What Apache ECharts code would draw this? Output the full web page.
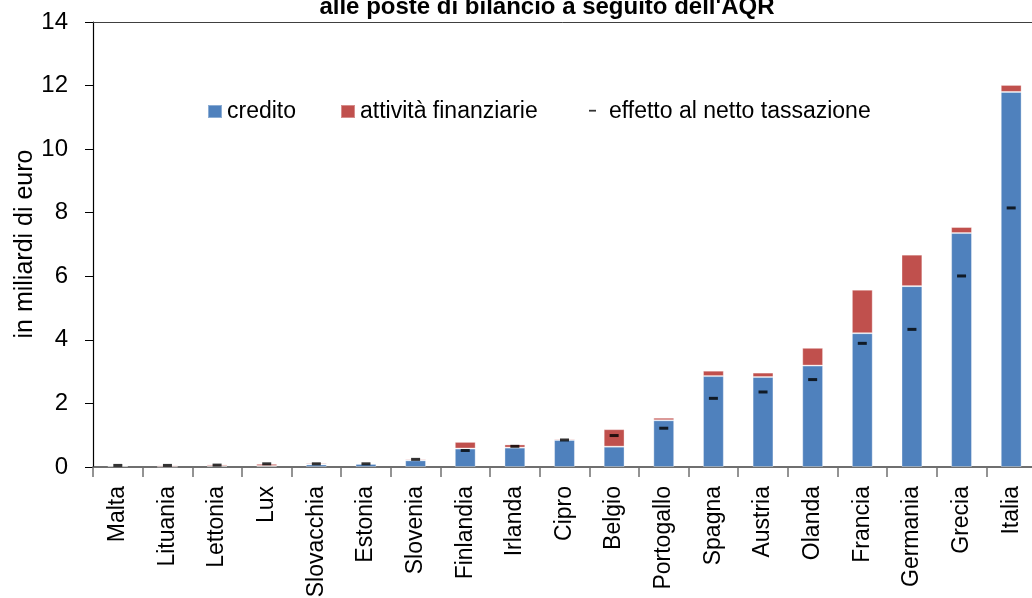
<!DOCTYPE html>
<html>
<head>
<meta charset="utf-8">
<script src="https://cdn.jsdelivr.net/npm/echarts@6/dist/echarts.min.js"></script>
<style>
  html, body { margin: 0; padding: 0; background: #fff; }
  #chart { width: 1032px; height: 598px; }
</style>
</head>
<body>
<div id="chart"></div>
<script>
var paesi = ['Malta', 'Lituania', 'Lettonia', 'Lux', 'Slovacchia', 'Estonia', 'Slovenia', 'Finlandia', 'Irlanda', 'Cipro',
  'Belgio', 'Portogallo', 'Spagna', 'Austria', 'Olanda', 'Francia', 'Germania', 'Grecia', 'Italia']
// componente credito (blu)
var credito = [0.03, 0.01, 0.03, 0.03, 0.08, 0.1, 0.21, 0.58, 0.61, 0.85, 0.64, 1.47, 2.86, 2.83, 3.19, 4.21, 5.69, 7.36, 11.8]
// attività finanziarie (rosso), sopra al credito
var attivita = [0.02, 0.04, 0.05, 0.07, 0.04, 0.0, 0.04, 0.21, 0.1, 0.04, 0.55, 0.08, 0.17, 0.14, 0.56, 1.37, 0.99, 0.19, 0.22]
// effetto al netto della tassazione (trattino)
var netto = [0.05, 0.05, 0.06, 0.1, 0.1, 0.1, 0.24, 0.52, 0.65, 0.85, 0.99, 1.22, 2.16, 2.36, 2.75, 3.89, 4.33, 6.01, 8.15]
var yTicks = [0, 14, 2]

var font = '"Liberation Sans", Arial, sans-serif'
var myChart = echarts.init(document.getElementById('chart'))

const option = {
  animation: false,
  title: {
    text: "alle poste di bilancio a seguito dell'AQR",
    left: 542,
    textAlign: 'center',
    top: -10,
    textStyle: {
      fontFamily: font,
      fontSize: 24,
      fontWeight: 'bold',
      color: '#000'
    }
  },
  legend: [
    {
      left: 202,
      top: 95,
      itemWidth: 14,
      itemHeight: 13,
      textStyle: { fontFamily: font, fontSize: 23, color: '#000' },
      data: [{ name: 'credito', icon: 'rect' }]
    },
    {
      left: 335,
      top: 95,
      itemWidth: 14,
      itemHeight: 13,
      textStyle: { fontFamily: font, fontSize: 23, color: '#000' },
      data: [{ name: 'attività finanziarie', icon: 'rect' }]
    },
    {
      left: 579,
      top: 95,
      itemWidth: 20,
      itemHeight: 13,
      textStyle: { fontFamily: font, fontSize: 23, color: '#000' },
      data: [{ name: 'effetto al netto tassazione', icon: 'path://M0,0M20,13M5,4.8h7v1.8h-7z' }]
    }
  ],
  grid: {
    left: 93,
    right: -4,
    top: 22,
    bottom: 131,
    containLabel: false,
    outerBoundsMode: 'none'
  },
  xAxis: [
    {
      type: 'category',
      data: paesi,
      axisLine: { lineStyle: { color: '#404040', width: 1.5 } },
      axisTick: { show: true, length: 10, lineStyle: { color: '#707070', width: 1.5 } },
      axisLabel: {
        rotate: 90,
        margin: 19,
        interval: 0,
        fontFamily: font,
        fontSize: 23,
        color: '#000'
      }
    },
    {
      // linea orizzontale in cima al grafico
      type: 'category',
      position: 'top',
      data: paesi,
      axisLine: { show: true, lineStyle: { color: '#404040', width: 1 } },
      axisTick: { show: false },
      axisLabel: { show: false }
    }
  ],
  yAxis: {
    type: 'value',
    min: yTicks[0],
    max: yTicks[1],
    interval: yTicks[2],
    axisLine: { show: true, lineStyle: { color: '#000', width: 1.2 } },
    axisTick: { show: true, length: 8, lineStyle: { color: '#000' } },
    splitLine: { show: false },
    axisLabel: {
      margin: 25,
      fontFamily: font,
      fontSize: 24,
      color: '#000'
    }
  },
  graphic: [
    {
      // titolo dell'asse y
      type: 'text',
      x: 25,
      y: 244,
      rotation: Math.PI / 2,
      style: {
        text: 'in miliardi di euro',
        font: '25px "Liberation Sans", Arial, sans-serif',
        fill: '#000',
        align: 'center',
        verticalAlign: 'middle'
      }
    }
  ],
  series: [
    {
      name: 'credito',
      type: 'bar',
      stack: 'tot',
      barWidth: '42%',
      itemStyle: { color: '#4F81BD', borderColor: 'rgba(255,255,255,0.35)', borderWidth: 1 },
      data: credito
    },
    {
      name: 'attività finanziarie',
      type: 'bar',
      stack: 'tot',
      itemStyle: { color: '#C0504D', borderColor: 'rgba(255,255,255,0.35)', borderWidth: 1 },
      data: attivita
    },
    {
      name: 'effetto al netto tassazione',
      type: 'scatter',
      symbol: 'rect',
      symbolSize: [9, 3],
      itemStyle: { color: '#000' },
      z: 5,
      data: netto
    }
  ]
}
myChart.setOption(option)
</script>
</body>
</html>
